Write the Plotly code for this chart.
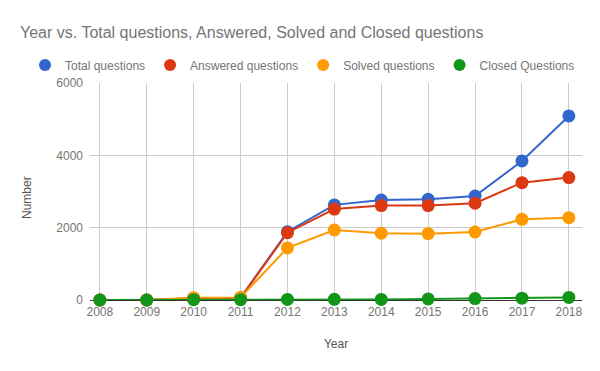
import plotly.graph_objects as go

years = [2008, 2009, 2010, 2011, 2012, 2013, 2014, 2015, 2016, 2017, 2018]
total_questions = [0, 0, 50, 60, 1890, 2630, 2765, 2785, 2875, 3845, 5090]
answered_questions = [0, 0, 45, 55, 1860, 2515, 2610, 2610, 2675, 3245, 3385]
solved_questions = [0, 0, 60, 70, 1440, 1935, 1845, 1835, 1880, 2230, 2275]
closed_questions = [0, 0, 10, 10, 15, 20, 15, 30, 40, 50, 70]

series = [
    ("Total questions", total_questions, "#3366cc"),
    ("Answered questions", answered_questions, "#dc3912"),
    ("Solved questions", solved_questions, "#ff9900"),
    ("Closed Questions", closed_questions, "#109618"),
]

FONT = "Arial, 'Liberation Sans', sans-serif"
fig = go.Figure()
for name, vals, color in series:
    fig.add_trace(go.Scatter(
        x=years, y=vals, mode="lines+markers", name=name,
        line=dict(color=color, width=2),
        marker=dict(color=color, size=13),
        cliponaxis=False, showlegend=False,
    ))
for name, vals, color in series:
    fig.add_trace(go.Scatter(
        x=[None], y=[None], mode="markers", name=name,
        marker=dict(color=color, size=12),
    ))

W, H = 600, 371
L, R, T, B = 90, 18, 83, 71
PW, PH = W - L - R, H - T - B
fig.update_layout(
    width=W, height=H,
    margin=dict(l=L, r=R, t=T, b=B, autoexpand=False),
    paper_bgcolor="white", plot_bgcolor="white",
    font=dict(family=FONT, size=12, color="#757575"),
    title=dict(
        text="Year vs. Total questions, Answered, Solved and Closed questions",
        x=20 / W, xanchor="left", xref="container",
        y=1 - 32 / H, yanchor="middle", yref="container",
        font=dict(family=FONT, size=16, color="#757575"),
    ),
    legend=dict(
        orientation="h", x=(25 - L) / PW, xanchor="left",
        y=1 + (T - 65) / PH, yanchor="middle",
        font=dict(family=FONT, size=12, color="#757575"),
        itemclick=False, bgcolor="rgba(0,0,0,0)",
    ),
    xaxis=dict(
        range=[2007.79, 2018.28], tickmode="array", tickvals=years,
        ticktext=[str(y) for y in years], automargin=False,
        showgrid=True, gridcolor="#cccccc", gridwidth=1,
        zeroline=False, showline=False, ticks="", ticklabelstandoff=3,
        title=dict(text="Year", font=dict(family=FONT, size=12, color="#555555"), standoff=21),
        tickfont=dict(size=12, color="#757575"),
    ),
    yaxis=dict(
        range=[0, 6000], tickvals=[0, 2000, 4000, 6000],
        ticktext=["0", "2000", "4000", "6000"], automargin=False,
        showgrid=True, gridcolor="#cccccc", gridwidth=1,
        zeroline=True, zerolinecolor="#333333", zerolinewidth=1,
        showline=False, ticks="", ticklabelstandoff=6,
        tickfont=dict(size=12, color="#757575"),
    ),
    annotations=[dict(
        text="Number", textangle=-90, showarrow=False,
        xref="paper", yref="paper",
        x=(27 - L) / PW, y=(H - B - 198) / PH,
        xanchor="center", yanchor="middle",
        font=dict(family=FONT, size=12, color="#555555"),
    )],
)
fig.write_html("out.html", config={"displayModeBar": False},
               post_script="document.body.style.margin='0';document.body.style.padding='0';")
